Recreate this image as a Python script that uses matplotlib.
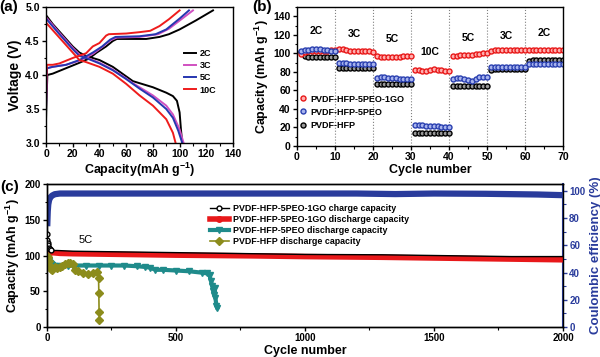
import numpy as np
import matplotlib.pyplot as plt
from matplotlib.ticker import MultipleLocator

plt.rcParams['font.family'] = ['Liberation Sans', 'DejaVu Sans']
plt.rcParams['font.weight'] = 'bold'
plt.rcParams['axes.labelweight'] = 'bold'
plt.rcParams['mathtext.fontset'] = 'custom'
plt.rcParams['mathtext.bf'] = 'Liberation Sans:bold'
plt.rcParams['mathtext.rm'] = 'Liberation Sans:bold'
plt.rcParams['mathtext.default'] = 'bf'
plt.rcParams['axes.linewidth'] = 1.0

# ---- (a) charge/discharge profiles ----
rates_a = ['2C', '3C', '5C', '10C']
colors_a = ['black', '#d050c0', '#2636b0', '#ee1c1c']

chg_x = {
    '2C': [0, 0.5, 1, 5, 15, 25, 32, 38, 45, 50, 53, 75, 85, 92, 100, 112, 125],
    '3C': [0, 0.5, 0.8, 5, 15, 25, 35, 42, 48, 53, 70, 84, 92, 100, 110],
    '5C': [0, 0.5, 0.8, 5, 15, 25, 35, 42, 48, 52, 70, 82, 90, 100, 107],
    '10C': [0, 0.3, 0.6, 5, 10, 20, 30, 35, 40, 45, 47, 60, 70, 78, 85, 92, 100],
}
chg_y = {
    '2C': [3.35, 3.7, 4.0, 4.02, 4.1, 4.18, 4.24, 4.33, 4.42, 4.5, 4.53, 4.53, 4.56, 4.6, 4.67, 4.8, 4.95],
    '3C': [3.5, 3.9, 4.1, 4.12, 4.15, 4.21, 4.31, 4.41, 4.51, 4.55, 4.56, 4.6, 4.68, 4.8, 4.95],
    '5C': [3.55, 3.9, 4.1, 4.12, 4.15, 4.22, 4.33, 4.42, 4.52, 4.56, 4.57, 4.6, 4.67, 4.83, 4.95],
    '10C': [3.6, 3.9, 4.15, 4.15, 4.17, 4.25, 4.32, 4.42, 4.47, 4.58, 4.6, 4.61, 4.63, 4.65, 4.72, 4.82, 4.95],
}
dis_x = {
    '2C': [0, 5, 10, 15, 20, 25, 30, 40, 50, 60, 65, 70, 80, 90, 95, 98, 100, 101, 102],
    '3C': [0, 10, 20, 25, 30, 40, 50, 60, 65, 70, 80, 90, 95, 100, 103],
    '5C': [0, 10, 20, 25, 30, 40, 50, 60, 65, 70, 80, 90, 95, 99, 102],
    '10C': [0, 10, 20, 25, 30, 40, 50, 60, 70, 80, 90, 95, 97],
}
dis_y = {
    '2C': [4.88, 4.75, 4.64, 4.53, 4.42, 4.33, 4.28, 4.22, 4.12, 3.98, 3.91, 3.88, 3.82, 3.74, 3.69, 3.62, 3.45, 3.2, 3.0],
    '3C': [4.85, 4.62, 4.4, 4.3, 4.26, 4.18, 4.08, 3.95, 3.88, 3.82, 3.7, 3.55, 3.42, 3.2, 3.0],
    '5C': [4.83, 4.6, 4.38, 4.28, 4.25, 4.17, 4.07, 3.94, 3.87, 3.8, 3.67, 3.5, 3.37, 3.18, 3.0],
    '10C': [4.77, 4.55, 4.33, 4.22, 4.19, 4.12, 4.02, 3.87, 3.7, 3.55, 3.35, 3.15, 3.0],
}

# ---- (b) rate capability ----
cyc_b = np.arange(1, 71)
cap_1go = [99, 101, 102, 102, 103, 103, 103, 103, 104, 104,
           105, 105, 104, 103, 103, 102, 102, 102, 102, 101,
           97, 96, 96, 96, 96, 96, 96, 97, 97, 97,
           82, 82, 81, 81, 82, 83, 82, 82, 81, 81,
           97, 97, 98, 98, 98, 98, 99, 99, 100, 100,
           103, 104, 104, 104, 104, 104, 104, 104, 104, 104,
           104, 104, 104, 104, 104, 104, 104, 104, 104, 104]
cap_peo = [102, 104, 104, 105, 105, 105, 104, 104, 103, 103,
           90, 90, 90, 89, 89, 89, 89, 89, 88, 88,
           73, 74, 74, 73, 73, 73, 72, 72, 72, 72,
           23, 23, 23, 22, 22, 22, 22, 21, 21, 21,
           72, 73, 73, 72, 71, 70, 72, 74, 75, 75,
           85, 85, 85, 85, 85, 85, 85, 85, 85, 85,
           88, 89, 89, 89, 89, 89, 89, 89, 89, 88]
cap_hfp = [101, 97, 96, 96, 96, 96, 96, 96, 96, 96,
           84, 84, 84, 84, 84, 84, 84, 84, 84, 84,
           67, 67, 67, 67, 67, 67, 67, 67, 67, 67,
           14, 14, 14, 14, 14, 14, 14, 14, 14, 14,
           65, 65, 65, 65, 65, 65, 65, 65, 65, 65,
           82, 83, 83, 83, 83, 83, 83, 83, 83, 83,
           92, 93, 93, 93, 93, 93, 93, 93, 93, 93]
rate_labels = ['2C', '3C', '5C', '10C', '5C', '3C', '2C']
rate_label_y = [124, 121, 116, 101, 117, 119, 122]

# ---- (c) long cycling ----
cyc_chg = [1, 2, 3, 5, 8, 12, 16, 20, 30, 40, 100, 300, 500, 800, 1000, 1300, 1500, 1800, 2000]
cap_chg = [130, 122, 118, 114, 111, 109, 108, 108, 107, 107, 106, 105, 104, 102.5, 101.5, 101, 100, 98.5, 98.5]
cyc_dis = [1, 3, 5, 10, 20, 50, 100, 300, 500, 800, 1000, 1300, 1500, 1800, 2000]
cap_dis = [104, 107, 106, 105, 104, 103, 102.5, 101.5, 100.5, 99.5, 98.5, 97.5, 96.5, 95, 94]
cyc_peo = [1, 3, 6, 10, 15, 20, 30, 40, 60, 80, 100, 150, 200, 250, 300, 350, 380, 400, 420,
           450, 500, 550, 600, 620, 630, 635, 640, 645, 648, 650, 653, 657, 660]
cap_peo_c = [95, 94, 92, 90, 88, 87, 86, 86, 85, 86, 86, 86, 86, 86, 86, 85, 84, 83, 80,
             80, 79, 78, 76, 75, 73, 65, 58, 50, 45, 55, 40, 30, 27]
cyc_hfp = [1, 3, 8, 12, 15, 20, 30, 40, 50, 60, 70, 80, 90, 100, 110, 120, 140, 160, 180,
           195, 200, 201, 202, 203]
cap_hfp_c = [100, 98, 92, 85, 81, 80, 84, 83, 84, 86, 88, 90, 90, 88, 80, 78, 75, 74, 75,
             77, 68, 47, 21, 10]
cyc_ce = [1, 2, 3, 5, 8, 12, 20, 30, 50, 100, 300, 500, 800, 1000, 1200, 1350, 1500, 1700,
          1900, 2000]
ce = [74, 80, 85, 90, 93, 95, 96.5, 97.5, 98, 98, 98, 98, 98, 98, 98, 97.6, 98, 97.8, 97.3, 96.8]

fig = plt.figure(figsize=(6, 3.57), dpi=100)

# (a)
ax_a = fig.add_axes([0.0767, 0.5994, 0.3117, 0.381])
for r, c in zip(rates_a, colors_a):
    ax_a.plot(chg_x[r], chg_y[r], color=c, lw=1.4, label=r)
    ax_a.plot(dis_x[r], dis_y[r], color=c, lw=1.4)
ax_a.set_xlim(0, 140)
ax_a.set_ylim(3.0, 5.0)
ax_a.set_xticks(np.arange(0, 141, 20))
ax_a.set_yticks(np.arange(3.0, 5.01, 0.5))
ax_a.xaxis.set_minor_locator(MultipleLocator(10))
ax_a.yaxis.set_minor_locator(MultipleLocator(0.25))
ax_a.set_xlabel('Capacity(mAh g$^{-1}$)', fontsize=9, labelpad=1)
ax_a.set_ylabel('Voltage (V)', fontsize=10, labelpad=2)
ax_a.legend(loc='upper left', bbox_to_anchor=(0.74, 0.69), frameon=False, fontsize=6.5,
            handlelength=1.3, handletextpad=0.4, labelspacing=0.35, borderpad=0, borderaxespad=0)
ax_a.text(-0.25, 1.0, '(a)', transform=ax_a.transAxes, fontsize=11, va='center')

# (b)
ax_b = fig.add_axes([0.495, 0.591, 0.4433, 0.3894])
for x in range(10, 70, 10):
    ax_b.axvline(x, color='gray', ls=':', lw=0.8, zorder=0)
ax_b.plot(cyc_b, cap_hfp, 'o', ms=3.6, mfc='#9a9a9a', mec='black', mew=1.0, label='PVDF-HFP')
ax_b.plot(cyc_b, cap_1go, 'o', ms=3.6, mfc='#ffb0b0', mec='#e81818', mew=1.0, label='PVDF-HFP-5PEO-1GO')
ax_b.plot(cyc_b, cap_peo, 'o', ms=3.6, mfc='#a8b4ee', mec='#2a40b0', mew=1.0, label='PVDF-HFP-5PEO')
for i, (lab, yy) in enumerate(zip(rate_labels, rate_label_y)):
    ax_b.text(5 + 10 * i, yy, lab, ha='center', va='center', fontsize=7.5)
ax_b.set_xlim(0, 70)
ax_b.set_ylim(0, 150)
ax_b.set_xticks(np.arange(0, 71, 10))
ax_b.set_yticks(np.arange(0, 141, 20))
ax_b.xaxis.set_minor_locator(MultipleLocator(5))
ax_b.yaxis.set_minor_locator(MultipleLocator(10))
ax_b.set_xlabel('Cycle number', fontsize=9, labelpad=1)
ax_b.set_ylabel('Capacity (mAh g$^{-1}$)', fontsize=9, labelpad=2)
h, l = ax_b.get_legend_handles_labels()
ax_b.legend([h[1], h[2], h[0]], [l[1], l[2], l[0]], loc='upper left', bbox_to_anchor=(0.01, 0.37),
            frameon=False, fontsize=6.5, handlelength=0.8, handletextpad=0.4, labelspacing=0.45,
            borderpad=0, borderaxespad=0)
ax_b.text(-0.17, 1.0, '(b)', transform=ax_b.transAxes, fontsize=11, va='center')

# (c)
ax_c = fig.add_axes([0.0783, 0.084, 0.86, 0.4006])
ax_r = ax_c.twinx()
blue_c = '#2a3c9c'
ax_r.plot(cyc_ce, ce, color=blue_c, lw=4.5, solid_capstyle='butt')
ax_r.set_ylim(0, 105)
ax_r.set_yticks(np.arange(0, 101, 20))
ax_r.yaxis.set_minor_locator(MultipleLocator(10))
ax_r.set_ylabel('Coulombic efficiency (%)', fontsize=9.5, color=blue_c, labelpad=3)
ax_r.tick_params(axis='y', colors=blue_c, labelsize=7)
ax_r.tick_params(axis='y', which='minor', colors=blue_c)
ax_r.spines['right'].set_color(blue_c)
ax_r.spines['right'].set_linewidth(1.5)

ax_c.set_zorder(ax_r.get_zorder() + 1)
ax_c.patch.set_visible(False)
ax_c.plot(cyc_dis, cap_dis, '-o', color='#e8181a', lw=4, ms=4, markevery=[0, 1, 2, 3],
          label='PVDF-HFP-5PEO-1GO discharge capacity')
ax_c.plot(cyc_chg, cap_chg, '-o', color='black', lw=1.0, ms=3.5, mfc='white', mec='black',
          markevery=[0, 1, 2, 3, 4, 5, 6], label='PVDF-HFP-5PEO-1GO charge capacity')
ax_c.plot(cyc_peo, cap_peo_c, '-v', color='#1f8b8b', lw=3, ms=4.5, label='PVDF-HFP-5PEO discharge capacity')
ax_c.plot(cyc_hfp, cap_hfp_c, '-D', color='#8c8c1c', lw=1.2, ms=3.8, label='PVDF-HFP discharge capacity')
ax_c.text(150, 121, '5C', ha='center', va='center', fontsize=8, fontweight='normal')
ax_c.set_xlim(0, 2000)
ax_c.set_ylim(0, 200)
ax_c.set_xticks(np.arange(0, 2001, 500))
ax_c.set_yticks(np.arange(0, 201, 50))
ax_c.xaxis.set_minor_locator(MultipleLocator(250))
ax_c.yaxis.set_minor_locator(MultipleLocator(25))
ax_c.set_xlabel('Cycle number', fontsize=9, labelpad=1)
ax_c.set_ylabel('Capacity (mAh g$^{-1}$)', fontsize=9, labelpad=2)
h, l = ax_c.get_legend_handles_labels()
ax_c.legend([h[1], h[0], h[2], h[3]], [l[1], l[0], l[2], l[3]], loc='upper left',
            bbox_to_anchor=(0.315, 0.86), frameon=False, fontsize=6.4, handlelength=2.2,
            handletextpad=0.4, labelspacing=0.22, borderpad=0, borderaxespad=0)
ax_c.text(-0.09, 0.98, '(c)', transform=ax_c.transAxes, fontsize=11, va='center')

for ax in (ax_a, ax_b, ax_c, ax_r):
    ax.tick_params(which='major', direction='out', length=3, width=1, labelsize=7.5, pad=1.5)
    ax.tick_params(which='minor', direction='out', length=1.8, width=0.8)
ax_c.tick_params(labelsize=7)
ax_r.tick_params(labelsize=7)

fig.savefig('out.png', dpi=100)
